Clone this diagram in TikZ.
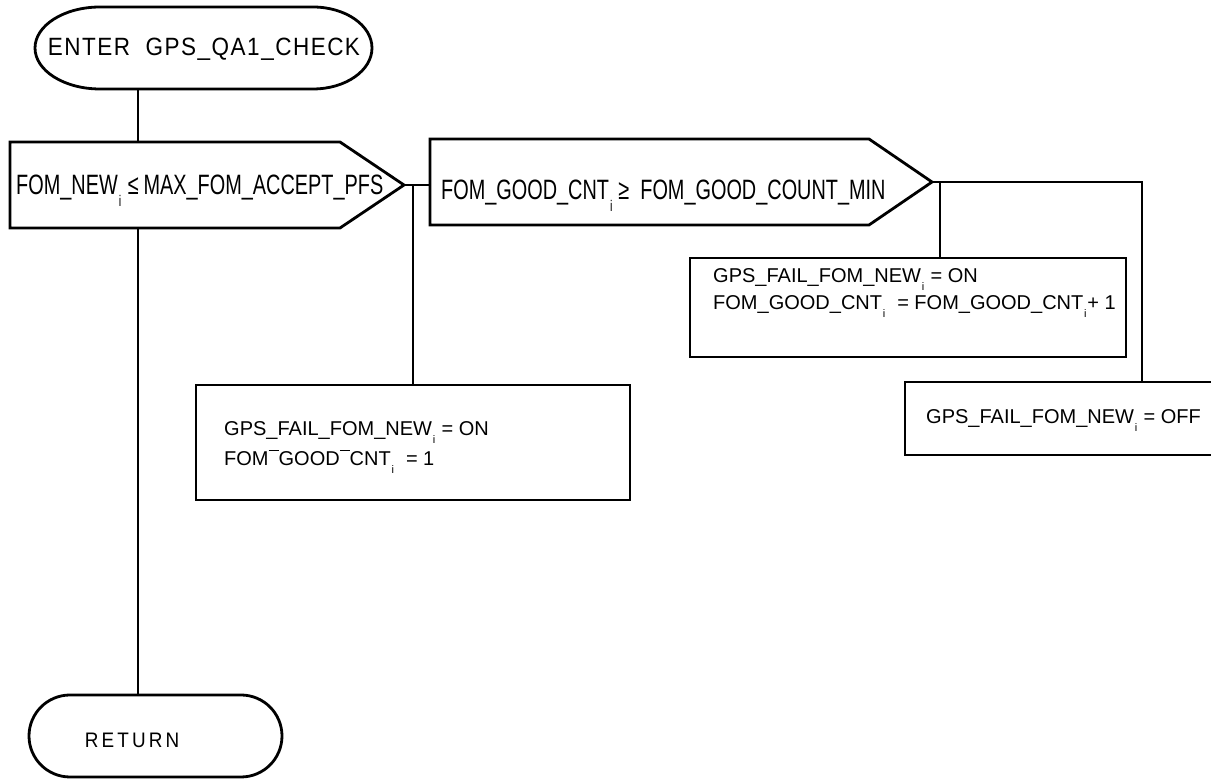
\documentclass[tikz,border=0pt]{standalone}
\usepackage{fontspec}
\setmainfont{Liberation Sans}
\newfontfamily\decfont{Liberation Sans}[FakeStretch=0.71]
\newfontfamily\termfont{Liberation Sans}[FakeStretch=0.9,LetterSpace=6]
\newfontfamily\retfont{Liberation Sans}[FakeStretch=0.9,LetterSpace=15]
\usetikzlibrary{calc}
% small index i hanging below the baseline, and the raised bar of the print
\newcommand{\subi}{\kern0.04em\raisebox{-\height}{\scalebox{0.55}{i}}\kern0.04em}
\newcommand{\hibar}{\rule[1.3ex]{0.5em}{0.07em}}
\begin{document}
\begin{tikzpicture}[x=0.5pt,y=-0.5pt,line width=1.2pt,
  outline/.style={draw,line width=1.4pt},
  flow/.style={line width=1.1pt},
  dectext/.style={font=\decfont\fontsize{14}{16}\selectfont,inner sep=0pt,anchor=base west},
  opbox/.style={draw,line width=1.4pt,inner sep=0pt},
  optext/.style={font=\fontsize{10}{13.5}\selectfont,align=left,inner sep=0pt,anchor=north west}]
\useasboundingbox (0,0) rectangle (1211,779);
\clip (0,0) rectangle (1211,779);
% terminators
\draw[outline] (100,7) -- (313,7) .. controls (345.6,7) and (372,25.4) .. (372,48)
  .. controls (372,70.6) and (345.6,89) .. (313,89) -- (100,89)
  .. controls (64.1,89) and (35,70.6) .. (35,48) .. controls (35,25.4) and (64.1,7) .. (100,7) -- cycle;
\node[font=\termfont\fontsize{12.5}{14}\selectfont,inner sep=0pt] (enter) at (204,49) {ENTER\ \ GPS\_QA1\_CHECK};
\draw[outline,rounded corners=20.5pt] (29,695) rectangle (282,777);
\node[font=\retfont\fontsize{10.5}{12}\selectfont,inner sep=0pt] (ret) at (132,740) {RETURN};
% decisions
\draw[outline] (10,142) -- (340,142) -- (404,185) -- (340,228) -- (10,228) -- cycle;
\node[dectext] (qa1) at (15,195) {FOM\_NEW\subi\ ≤\,MAX\_FOM\_ACCEPT\_PFS};
\draw[outline] (430,139) -- (869,139) -- (932,182) -- (869,225) -- (430,225) -- cycle;
\node[dectext] (goodcnt) at (440,200) {FOM\_GOOD\_CNT\subi\,≥\ \ FOM\_GOOD\_COUNT\_MIN};
% actions
\node[opbox,minimum width=217pt,minimum height=57.5pt] (failon) at (413,442.5) {};
\node[optext] (failontxt) at (223,420) {GPS\_FAIL\_FOM\_NEW\subi\ = ON\\[1.5pt]FOM\hibar GOOD\hibar CNT\subi\ \ = 1};
\node[opbox,minimum width=218pt,minimum height=49.5pt] (failinc) at (908,307.5) {};
\node[optext] (failinctxt) at (712,267) {GPS\_FAIL\_FOM\_NEW\subi\ = ON\\FOM\_GOOD\_CNT\subi\ \ = FOM\_GOOD\_CNT\subi+ 1};
\node[opbox,minimum width=160pt,minimum height=36.5pt] (failoff) at (1065,418.5) {};
\node[optext] (failofftxt) at (925,408) {GPS\_FAIL\_FOM\_NEW\subi\ = OFF};
% connection points
\coordinate (enterbot) at (138,89);
\coordinate (qa1top) at (138,142);
\coordinate (qa1bot) at (138,228);
\coordinate (rettop) at (138,695);
\coordinate (qa1tip) at (404,185);
\coordinate (cntin) at (430,185);
\coordinate (cnttip) at (932,182);
\coordinate (incdrop) at (940,258);
\coordinate (offdrop) at (1142,382);
% connectors
\draw[flow] (enterbot) -- (qa1top);
\draw[flow] (qa1bot) -- (rettop);
\draw[flow] (qa1tip) -- (cntin);
\draw[flow] (failon.north |- qa1tip) -- (failon.north);
\draw[flow] (cnttip) -| (offdrop);
\draw[flow] (incdrop |- cnttip) -- (incdrop);
\end{tikzpicture}
\end{document}
